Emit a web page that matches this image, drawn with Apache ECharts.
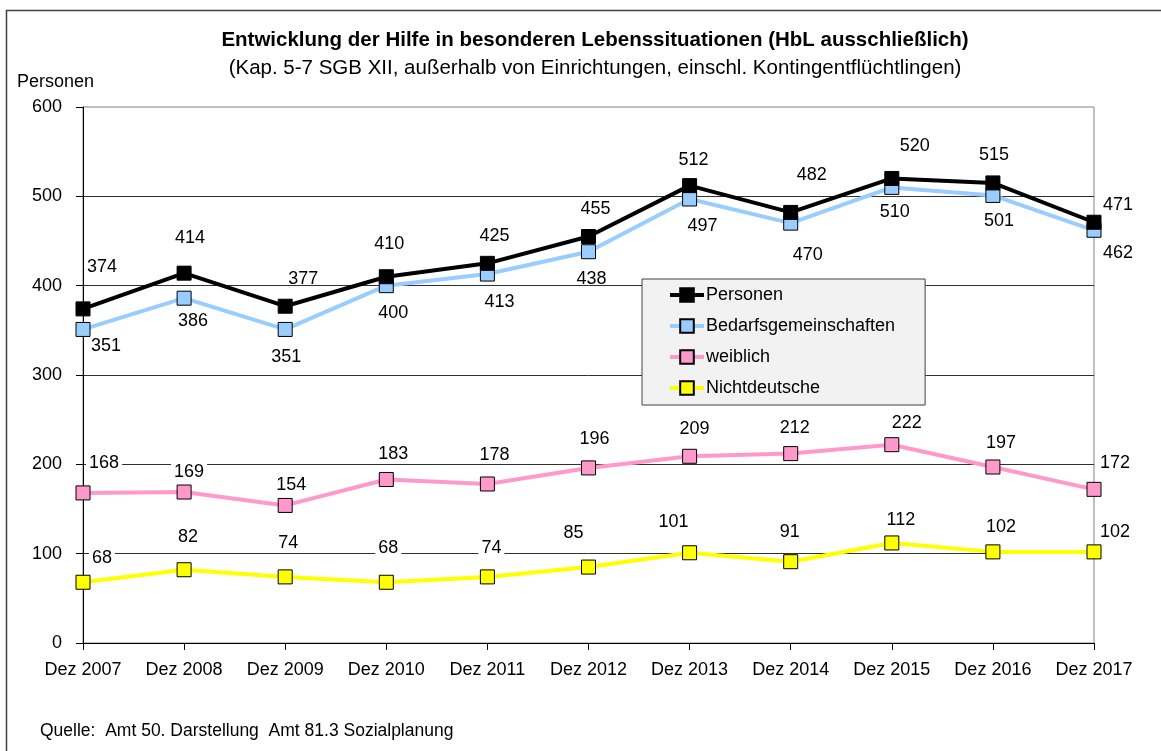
<!DOCTYPE html>
<html>
<head>
<meta charset="utf-8">
<script src="https://cdn.jsdelivr.net/npm/echarts@6/dist/echarts.min.js"></script>
<style>
    html, body { margin: 0; padding: 0; background: #fff; }
    #chart { width: 1161px; height: 751px; }
</style>
</head>
<body>
<div id="chart"></div>
<script>
// Daten
var jahre = ['Dez 2007', 'Dez 2008', 'Dez 2009', 'Dez 2010', 'Dez 2011', 'Dez 2012',
             'Dez 2013', 'Dez 2014', 'Dez 2015', 'Dez 2016', 'Dez 2017'];
var personen = [374, 414, 377, 410, 425, 455, 512, 482, 520, 515, 471];
var bedarfsgemeinschaften = [351, 386, 351, 400, 413, 438, 497, 470, 510, 501, 462];
var weiblich = [168, 169, 154, 183, 178, 196, 209, 212, 222, 197, 172];
var nichtdeutsche = [68, 82, 74, 68, 74, 85, 101, 91, 112, 102, 102];

// Lage der Beschriftungen (px, relativ zum Punkt)
var offPersonen = [[19,-42],[6,-35],[18,-27],[3,-33],[7,-27],[7,-28],[4,-26],[21,-37],[23,-32],[1,-28],[24,-17]];
var offBedarf = [[23,17],[9,23],[1,28],[7,27],[12,28],[3,27],[13,27],[17,32],[3,25],[6,26],[24,23]];
var offWeiblich = [[21,-30],[5,-20],[6,-20],[7,-25],[7,-29],[6,-29],[5,-27],[4,-26],[15,-22],[8,-24],[21,-26]];
var offNicht = [[19,-24],[4,-33],[3,-34],[2,-34],[4,-29],[-15,-34],[-16,-31],[-1,-30],[9,-23],[8,-25],[21,-20]];

var FONT = "'Liberation Sans', Arial, sans-serif";

function punkte(werte, offs, bg) {
    return werte.map(function (v, i) {
        return {
            value: v,
            label: {
                offset: offs[i],
                backgroundColor: bg ? '#fff' : 'transparent',
                padding: bg ? [0, 3] : 0
            }
        };
    });
}

function reihe(name, werte, offs, farbe, bg) {
    return {
        name: name,
        type: 'line',
        data: punkte(werte, offs, bg),
        symbol: 'rect',
        symbolSize: 14,
        lineStyle: { color: farbe, width: 4 },
        itemStyle: { color: farbe, borderColor: '#000', borderWidth: 1 },
        label: {
            show: true,
            position: 'inside',
            color: '#000',
            fontFamily: FONT,
            fontSize: 18
        },
        emphasis: { disabled: true },
        z: 3
    };
}

var option = {
    animation: false,
    backgroundColor: '#fff',
    title: [
        {
            text: 'Entwicklung der Hilfe in besonderen Lebenssituationen (HbL ausschließlich)',
            subtext: '(Kap. 5-7 SGB XII, außerhalb von Einrichtungen, einschl. Kontingentflüchtlingen)',
            left: 590,
            top: 25,
            textAlign: 'center',
            itemGap: 7,
            textStyle: { fontFamily: FONT, fontSize: 20.5, fontWeight: 'bold', color: '#000' },
            subtextStyle: { fontFamily: FONT, fontSize: 20.5, color: '#000' }
        },
        {
            text: 'Personen',
            left: 12,
            top: 68,
            textStyle: { fontFamily: FONT, fontSize: 18, fontWeight: 'normal', color: '#000' }
        },
        {
            text: 'Quelle:  Amt 50. Darstellung  Amt 81.3 Sozialplanung',
            left: 35,
            top: 717,
            textStyle: { fontFamily: FONT, fontSize: 17.5, fontWeight: 'normal', color: '#000' }
        }
    ],
    graphic: [
        {
            type: 'rect',
            shape: { x: 6.5, y: 10.5, width: 1300, height: 900 },
            style: { fill: 'none', stroke: '#404040', lineWidth: 1.5 },
            silent: true
        }
    ],
    legend: {
        orient: 'vertical',
        left: 642,
        top: 279,
        padding: [7, 30, 8, 26],
        itemWidth: 34,
        itemHeight: 17,
        itemGap: 13,
        backgroundColor: '#f2f2f2',
        borderColor: '#404040',
        borderWidth: 1,
        lineStyle: { width: 4 },
        textStyle: { fontFamily: FONT, fontSize: 18, color: '#000', padding: [0, 0, 0, -3] },
        data: ['Personen', 'Bedarfsgemeinschaften', 'weiblich', 'Nichtdeutsche']
    },
    grid: {
        left: 83,
        right: 67,
        top: 107,
        bottom: 108,
        show: true,
        borderColor: '#808080',
        borderWidth: 1,
        backgroundColor: 'transparent'
    },
    xAxis: {
        type: 'category',
        data: jahre,
        boundaryGap: false,
        axisLine: { lineStyle: { color: '#000', width: 1 } },
        axisTick: { show: true, length: 7, lineStyle: { color: '#000' } },
        axisLabel: { fontFamily: FONT, fontSize: 18, color: '#000', margin: 18, interval: 0 },
        splitLine: { show: false }
    },
    yAxis: {
        type: 'value',
        min: 0,
        max: 600,
        interval: 100,
        axisLine: { show: true, lineStyle: { color: '#000', width: 1 } },
        axisTick: { show: true, length: 7, lineStyle: { color: '#000' } },
        axisLabel: { fontFamily: FONT, fontSize: 18, color: '#000', margin: 21 },
        splitLine: { show: true, showMaxLine: false, lineStyle: { color: '#303030', width: 1 } }
    },
    series: [
        reihe('Nichtdeutsche', nichtdeutsche, offNicht, '#ffff00', true),
        reihe('weiblich', weiblich, offWeiblich, '#ff99cc', true),
        reihe('Bedarfsgemeinschaften', bedarfsgemeinschaften, offBedarf, '#99ccff', false),
        reihe('Personen', personen, offPersonen, '#000000', false)
    ]
};

var chart = echarts.init(document.getElementById('chart'));
chart.setOption(option);
</script>
</body>
</html>
